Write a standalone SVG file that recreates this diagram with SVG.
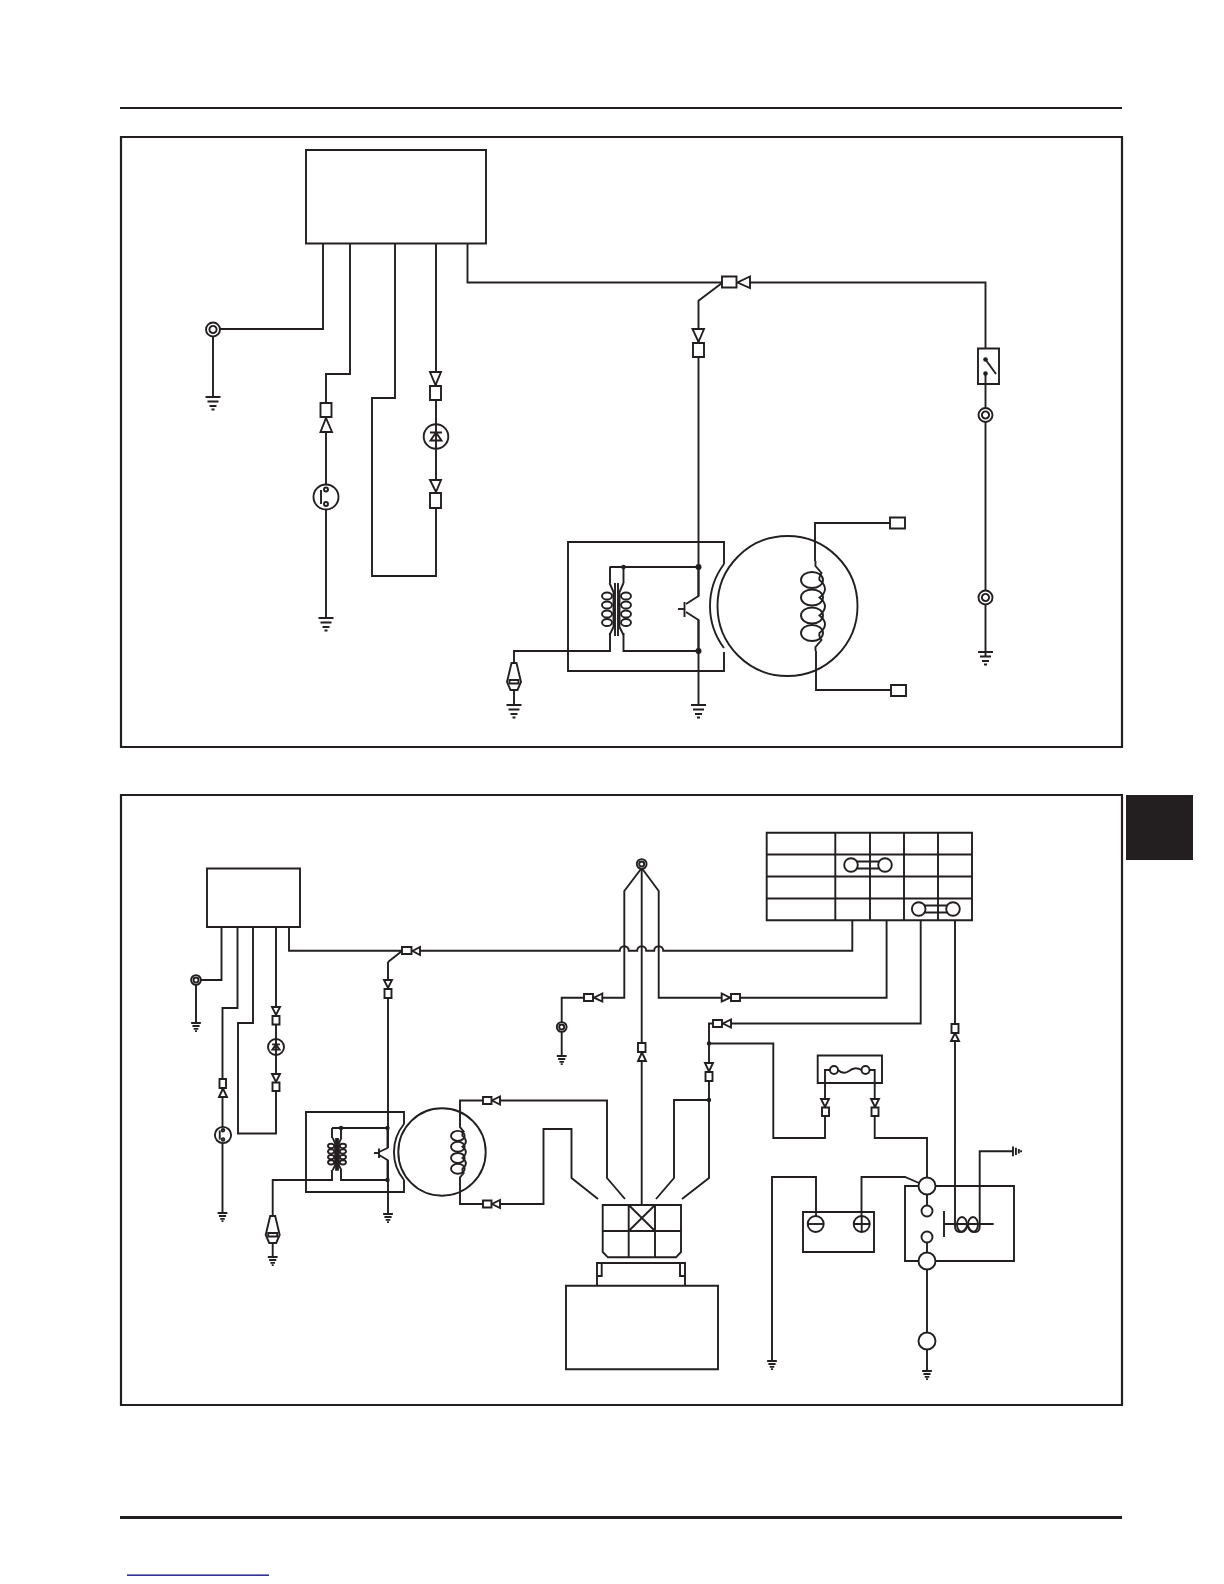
<svg xmlns="http://www.w3.org/2000/svg" width="1224" height="1584" viewBox="0 0 1224 1584">
<style>
*{vector-effect:non-scaling-stroke}
.w,.n,.f{stroke:#231f20;stroke-width:1.9;stroke-linejoin:miter}
.w,.n{fill:none}
.f{fill:#fff}
.d{fill:#231f20;stroke:none}
.frame{fill:none;stroke:#231f20;stroke-width:2.2}
</style>
<defs>
<g id="gnd" class="n">
<path d="M-7.5,0H7.5M-5.5,4.5H5.5M-3.5,9H3.5M-1.5,12.5H1.5"/>
</g>
<g id="eye"><circle class="f" r="7"/><circle class="f" r="3.6"/></g>
<g id="sw"><circle class="f" r="12.5"/><path class="n" d="M-5,-7V7"/><circle class="f" cy="-7.5" r="2"/><circle class="f" cy="7" r="2"/></g>
<g id="dio"><circle class="f" r="12.3"/><path class="n" d="M0,-12.3V12.3M-6,-4H6"/><path class="n" d="M0,-4L-5.5,4H5.5Z"/></g>
<g id="plug"><path class="f" d="M-2.5,0H2.5L7,19L3.5,27H-3.5L-7,19Z"/><rect x="-4.5" y="17" width="9" height="3.5" fill="#fff" stroke="#231f20" stroke-width="1.9"/></g>
<g id="tcoil" class="n">
<path d="M-1.5,-26V27M1.5,-26V27"/>
<ellipse cx="-9.5" cy="-13" rx="5" ry="3.5"/><ellipse cx="-9.5" cy="-4" rx="5" ry="3.5"/><ellipse cx="-9.5" cy="5" rx="5" ry="3.5"/><ellipse cx="-9.5" cy="13.5" rx="5" ry="3.5"/>
<ellipse cx="9.5" cy="-13" rx="5" ry="3.5"/><ellipse cx="9.5" cy="-4" rx="5" ry="3.5"/><ellipse cx="9.5" cy="5" rx="5" ry="3.5"/><ellipse cx="9.5" cy="13.5" rx="5" ry="3.5"/>
<path d="M-7,-26L-3,-17V18L-7,26M7,-26L3,-17V18L7,26"/>
</g>
<g id="scoil" class="n">
<ellipse cx="-3.5" cy="-26" rx="11" ry="8"/><ellipse cx="-3.5" cy="-8.5" rx="11" ry="8"/><ellipse cx="-3.5" cy="9.5" rx="11" ry="8"/><ellipse cx="-3.5" cy="27" rx="11" ry="8"/>
<path d="M0,-45V-40L6,-33Q3,-28 4,-26Q15,-17 4,-8.5Q15,0 4,9.5Q15,18 4,27Q3,30 6,34L0,41V45"/>
</g>
</defs>
<rect width="1224" height="1584" fill="#fff"/>
<g id="page">
<rect x="120" y="107" width="1002" height="2" fill="#231f20"/>
<rect x="120" y="1516" width="1002" height="3" fill="#231f20"/>
<rect x="127" y="1574.5" width="142" height="1.3" fill="#00007f"/>
<rect x="1126" y="795" width="67" height="65" fill="#231f20"/>
<rect class="frame" x="121" y="137" width="1001" height="610"/>
<rect class="frame" x="121" y="795" width="1001" height="610"/>
</g>
<g id="connectors" class="w">
<path d="M323,243V329H213V397"/>
<path d="M350,243V374H326V618"/>
<path d="M395,243V398H372V576H436V243"/>
<path d="M467.5,243V282.5H722M750,282.5H985.5V415V657"/>
<path d="M722,283L698.5,300.7V596M698.5,620V705"/>
<path d="M610,567V583M623.5,567V583M609.5,567H698.5"/>
<path d="M514,705V651H610V633M698.5,651H623.5V633"/>
<path d="M815,561V523H890M816,651V690H891"/>
<path d="M698.5,567V596L686,604M686,612L698.5,620V651"/>
<path d="M678,609H685"/>
<path d="M221.5,927V980H196V1023"/>
<path d="M237.5,927V1008H222.5V1213"/>
<path d="M253,927V1023H238V1133.5H276V927"/>
<path d="M289,927V950.7H402M388,962L402,951M388,962V1148M388,1160V1214"/>
<path d="M420,950.7H619.8a4.5,4.5 0 0 1 9,0H637.2a4.5,4.5 0 0 1 9,0H654.2a4.5,4.5 0 0 1 9,0H852.3V920"/>
<path d="M886.6,920V997.7H658.7V891L641.7,868L624.3,891V997.7H584M731,997.7H722M584,997.7H561.7V1056"/>
<path d="M641.7,868V1205"/>
<path d="M920.7,920V1023.5H709V1178L682,1199M709,1043.5H773.3V1138H825V1070H830M870,1070H874.7V1138H927V1178"/>
<path d="M709,1100H674V1178L656,1199"/>
<path d="M500,1100.5H607V1178L625,1199"/>
<path d="M500,1204H543.5V1129H571.5V1178L598,1199"/>
<path d="M955,920V1226M979.7,1226V1151.3H1013"/>
<path d="M460,1125V1100.5H483M460,1180V1204H483"/>
<path d="M332,1128V1138M341,1128V1138M332,1128H387.5M272.7,1216V1180H332V1170M387.5,1180H341V1170"/>
<path d="M387.5,1128V1148L379,1152M379,1155L387.5,1160V1180"/>
<path d="M374,1153H379"/>
<path d="M272.7,1243V1257"/>
<path d="M816,1216V1177H772V1361M861.5,1216V1177H905L919,1183"/>
<path d="M927,1194.5V1206M927,1242.5V1253M927,1270V1332M927,1350V1371"/>
</g>
<g id="ecu-top"><rect class="n" x="306" y="150" width="180" height="93.5"/></g>
<g id="ground-1"><use href="#gnd" x="213" y="397"/><use href="#gnd" x="326" y="618"/><use href="#gnd" x="985.5" y="652"/><use href="#gnd" x="698.5" y="705"/><use href="#gnd" x="514" y="705"/></g>
<g id="eyelets-1"><use href="#eye" x="213" y="329.5"/><use href="#eye" x="985.5" y="415"/><use href="#eye" x="985.5" y="597.5"/></g>
<g id="connector-pairs-1">
<polygon class="f" points="320.5,432 332,432 326,418"/><rect class="f" x="320.5" y="403" width="11" height="14"/>
<polygon class="f" points="430,372 441,372 435.5,385"/><rect class="f" x="430" y="386" width="11" height="14"/>
<polygon class="f" points="430,480 441,480 436,492"/><rect class="f" x="430" y="493" width="11" height="15"/>
<polygon class="f" points="750,276.5 750,288 737.5,282.5"/><rect class="f" x="722" y="276.5" width="14.5" height="11"/>
<polygon class="f" points="692.5,329 704,329 698.5,342"/><rect class="f" x="693" y="343" width="11" height="14"/>
</g>
<g id="switch-1"><use href="#sw" x="326" y="497"/></g>
<g id="diode-1"><use href="#dio" x="436" y="436.5"/></g>
<g id="kill-switch"><rect class="f" x="978" y="348.5" width="21" height="35.5"/><circle class="d" cx="985.5" cy="359.5" r="2.3"/><circle class="d" cx="985.5" cy="373.5" r="2.3"/><path class="n" d="M985.5,359.5L996,374"/><path class="n" d="M985.5,373.5V384"/></g>
<g id="coil-unit-1">
<path class="n" d="M724,564V542H568V671H724V652"/>
<path class="n" d="M724,564A70,70 0 0 0 724,648"/>
<use href="#tcoil" x="616.5" y="609"/>
<circle class="d" cx="623.5" cy="567" r="2.3"/><circle class="d" cx="698.5" cy="567" r="3"/><circle class="d" cx="698.5" cy="651" r="3"/>
<path class="n" d="M684.5,602V617"/>
</g>
<g id="stator-1"><circle class="n" cx="787.5" cy="606" r="70"/><use href="#scoil" x="815.5" y="606"/>
<rect class="f" x="890" y="517.5" width="15" height="11"/><rect class="f" x="891" y="685" width="15" height="11"/></g>
<g id="plug-1"><use href="#plug" x="514" y="663"/></g>
<g id="ecu-bottom"><rect class="n" x="207" y="868.5" width="93" height="58.5"/></g>
<g id="ground-2">
<use href="#gnd" transform="translate(196,1023) scale(.65)"/><use href="#gnd" transform="translate(222.5,1213) scale(.65)"/><use href="#gnd" transform="translate(388,1214) scale(.65)"/><use href="#gnd" transform="translate(272.7,1257) scale(.65)"/><use href="#gnd" transform="translate(561.7,1056) scale(.65)"/><use href="#gnd" transform="translate(772,1361) scale(.65)"/><use href="#gnd" transform="translate(927,1371) scale(.65)"/><use href="#gnd" transform="translate(1013,1151.3) rotate(-90) scale(.65)"/>
</g>
<g id="eyelets-2"><use href="#eye" transform="translate(196,980) scale(.7)"/><use href="#eye" transform="translate(641.7,864) scale(.7)"/><use href="#eye" transform="translate(561.7,1027) scale(.7)"/></g>
<g id="connector-pairs-2">
<polygon class="f" points="219,1097 227,1097 223,1088.5"/><rect class="f" x="219.5" y="1079" width="6.5" height="9"/>
<polygon class="f" points="272,1007 280,1007 276,1015"/><rect class="f" x="272.5" y="1016" width="7" height="8.5"/>
<polygon class="f" points="272,1074 280,1074 276,1082"/><rect class="f" x="272.5" y="1082.5" width="7" height="8.5"/>
<polygon class="f" points="420,947 420,955 412.5,951"/><rect class="f" x="402" y="947" width="9.5" height="7"/>
<polygon class="f" points="384,980 392,980 388,988"/><rect class="f" x="384.5" y="989" width="7" height="9"/>
<polygon class="f" points="602.3,993.5 602.3,1001.5 594,997.7"/><rect class="f" x="584" y="994" width="9" height="7"/>
<polygon class="f" points="721.7,993.5 721.7,1001.5 730,997.7"/><rect class="f" x="731" y="994" width="9" height="7"/>
<polygon class="f" points="731,1019.5 731,1027.5 723,1023.5"/><rect class="f" x="713" y="1020" width="9" height="7"/>
<polygon class="f" points="638,1061 646,1061 642,1052.5"/><rect class="f" x="638" y="1043" width="7.5" height="9"/>
<polygon class="f" points="705,1063 713,1063 709,1071.5"/><rect class="f" x="705.5" y="1072" width="7" height="9"/>
<polygon class="f" points="951,1041 959,1041 955,1033"/><rect class="f" x="951.5" y="1024" width="7" height="9"/>
<polygon class="f" points="821,1099 829,1099 825,1107"/><rect class="f" x="822" y="1107.5" width="7" height="8.5"/>
<polygon class="f" points="871,1099 879,1099 875,1107"/><rect class="f" x="871.5" y="1107.5" width="7" height="8.5"/>
<polygon class="f" points="500,1096.5 500,1104.5 492,1100.5"/><rect class="f" x="483" y="1097" width="8.5" height="7"/>
<polygon class="f" points="500,1200 500,1208 492,1204"/><rect class="f" x="483" y="1200.5" width="8.5" height="7"/>
</g>
<g id="switch-2"><use href="#sw" transform="translate(223,1135) scale(.65)"/></g>
<g id="diode-2"><use href="#dio" transform="translate(276,1047) scale(.65)"/></g>
<g id="coil-unit-2">
<path class="n" d="M404,1124V1112H306V1192H404V1180"/>
<path class="n" d="M404,1124A44,44 0 0 0 404,1180"/>
<use href="#tcoil" transform="translate(337,1154) scale(.62)"/>
<circle class="d" cx="341" cy="1128" r="2.2"/><circle class="d" cx="387.5" cy="1128" r="2.2"/><circle class="d" cx="387.5" cy="1180" r="2.2"/>
<path class="n" d="M379,1148.5V1158"/>
</g>
<g id="stator-2"><circle class="n" cx="442" cy="1152" r="43.7"/><use href="#scoil" transform="translate(460,1152) scale(.62)"/></g>
<g id="plug-2"><use href="#plug" x="272.7" y="1216"/></g>
<g id="switch-table">
<rect class="n" x="766.7" y="832.7" width="205.3" height="87.6"/>
<path class="n" d="M766.7,854.5H972M766.7,876.5H972M766.7,898.5H972M835.3,832.7V920.3M870,832.7V920.3M904,832.7V920.3M938,832.7V920.3"/>
<path class="n" d="M851,861.5H885M851,868.5H885M918.7,905.5H953M918.7,912.5H953"/>
<circle class="f" cx="851" cy="865" r="6.8"/><circle class="f" cx="885" cy="865" r="6.8"/><circle class="f" cx="918.7" cy="909" r="6.8"/><circle class="f" cx="953" cy="909" r="6.8"/>
</g>
<g id="junctions"><circle class="d" cx="709" cy="1043.5" r="2.2"/><circle class="d" cx="709" cy="1100" r="2.2"/></g>
<g id="fuse"><rect class="n" x="817.7" y="1055.5" width="64.3" height="27.5"/>
<circle class="f" cx="834" cy="1070" r="4"/><circle class="f" cx="865.5" cy="1070" r="4"/>
<path class="n" d="M838,1070Q843,1075 849,1071Q855,1066 861.5,1070"/></g>
<g id="multi-connector">
<path class="n" d="M602.7,1205H681V1252L676,1257.3H608L602.7,1252Z"/>
<path class="n" d="M602.7,1231H681M628.7,1205V1257.3M655,1205V1257.3M628.7,1205L655,1231M655,1205L628.7,1231"/>
<path class="n" d="M597,1285.7V1263H685V1285.7M601.7,1263V1276H597M680,1263V1276H685"/>
</g>
<g id="ecu-large"><rect class="n" x="566" y="1285.7" width="152" height="83.5"/></g>
<g id="battery"><rect class="n" x="803" y="1212" width="71" height="40"/>
<circle class="f" cx="815.7" cy="1224" r="8"/><path class="n" d="M807.7,1224H823.7"/>
<circle class="f" cx="861.7" cy="1224" r="8"/><path class="n" d="M853.7,1224H869.7M861.7,1216V1232"/></g>
<g id="relay"><rect class="n" x="905" y="1186" width="109" height="75"/>
<circle class="f" cx="927" cy="1186" r="8.5"/><circle class="f" cx="927" cy="1261" r="8.5"/><circle class="f" cx="927" cy="1211" r="5.5"/><circle class="f" cx="927" cy="1237" r="5.5"/>
<path class="n" d="M944,1211V1237M944,1224H993.7"/>
<ellipse class="n" cx="962" cy="1224.5" rx="5" ry="7.5"/><ellipse class="n" cx="973" cy="1224.5" rx="5" ry="7.5"/>
<path class="n" d="M955,1226Q955,1232 960,1232Q964,1232 967.5,1226Q971,1232 975,1232Q980,1232 979.7,1226"/>
</g>
<g id="starter"><circle class="f" cx="927" cy="1341" r="8.5"/></g>
</svg>
